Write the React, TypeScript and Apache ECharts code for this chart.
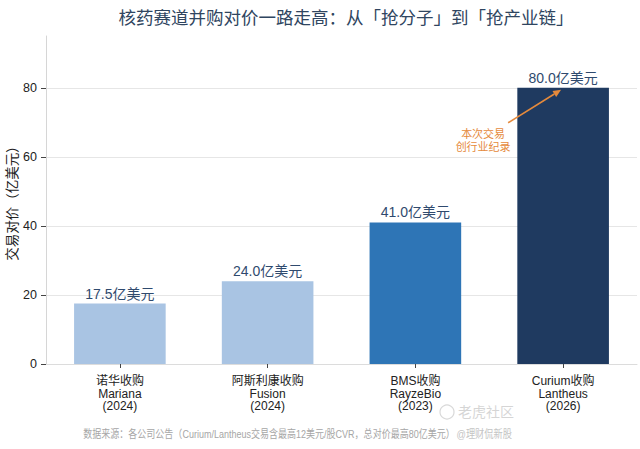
import React, { useEffect, useRef } from "react";
import * as echarts from "echarts";

const categories = [
  "诺华收购\nMariana\n(2024)",
  "阿斯利康收购\nFusion\n(2024)",
  "BMS收购\nRayzeBio\n(2023)",
  "Curium收购\nLantheus\n(2026)",
];
const values = [17.5, 24.0, 41.0, 80.0];
const barColors = ["#a9c4e3", "#a9c4e3", "#2e75b6", "#1f3a60"];
const yTicks = [0, 20, 40, 60, 80];
const titleText = "核药赛道并购对价一路走高：从「抢分子」到「抢产业链」";
const yName = "交易对价（亿美元）";
const noteText = "本次交易\n创行业纪录";
const sourceText = "数据来源：各公司公告（Curium/Lantheus交易含最高12美元/股CVR，总对价最高80亿美元）";

const FONT = "'Liberation Sans', 'Noto Sans CJK SC', sans-serif";

export default function App() {
  const ref = useRef<HTMLDivElement>(null);
  useEffect(() => {
    document.body.style.margin = "0";
    if (!ref.current) return;
    const chart = echarts.init(ref.current, undefined, { renderer: "svg" });
    chart.setOption({
      animation: false,
      textStyle: { fontFamily: FONT },
      title: {
        text: titleText,
        left: 341,
        top: 4,
        textAlign: "center",
        textStyle: { fontSize: 17.5, fontWeight: "normal", color: "#2f4560", fontFamily: FONT },
      },
      grid: { left: 46, right: 3, top: 36, bottom: 85, containLabel: false, outerBoundsMode: "none" },
      xAxis: {
        type: "category",
        data: categories,
        boundaryGap: true,
        axisLine: { show: true, lineStyle: { color: "#dcdcdc", width: 1 } },
        axisTick: { show: true, alignWithLabel: true, length: 4, lineStyle: { color: "#444" } },
        axisLabel: { color: "#222", fontSize: 12, lineHeight: 12.5, margin: 11, interval: 0, fontFamily: FONT },
      },
      yAxis: {
        type: "value",
        min: 0,
        max: 95,
        interval: 20,
        name: yName,
        nameLocation: "middle",
        nameGap: 27,
        nameRotate: 90,
        nameMoveOverlap: false,
        nameTextStyle: { fontSize: 13.5, color: "#222", fontFamily: FONT },
        axisLine: { show: true, lineStyle: { color: "#d6d6d6", width: 1 } },
        axisTick: { show: true, length: 5, lineStyle: { color: "#444" }, customValues: yTicks },
        axisLabel: { color: "#222", fontSize: 12.5, margin: 9, customValues: yTicks, fontFamily: FONT },
        splitLine: { show: true, lineStyle: { color: "#e6e6e6", width: 1 } },
      },
      series: [
        {
          type: "bar",
          barWidth: "62%",
          data: values.map((v, i) => ({ value: v, itemStyle: { color: barColors[i] } })),
          label: {
            show: true,
            position: "top",
            distance: 3,
            formatter: (p: any) => `${Number(p.value).toFixed(1)}亿美元`,
            fontSize: 14,
            color: "#2f4a6e",
            fontFamily: FONT,
          },
        },
      ],
    });

    const [cx, cy] = chart.convertToPixel({ gridIndex: 0 }, [3, values[3]]) as number[];
    const sx = cx - 55;
    const sy = cy + 35;
    const ex = cx - 2;
    const ey = cy + 2;
    const ang = Math.atan2(ey - sy, ex - sx);
    const hl = 8;
    const hw = 3.5;
    const bx = ex - hl * Math.cos(ang);
    const by = ey - hl * Math.sin(ang);
    const px = -Math.sin(ang);
    const py = Math.cos(ang);
    const orange = "#e58a3c";
    chart.setOption({
      graphic: [
        {
          type: "line",
          shape: { x1: sx, y1: sy, x2: bx, y2: by },
          style: { stroke: orange, lineWidth: 1.6 },
          z: 100,
        },
        {
          type: "polygon",
          shape: {
            points: [
              [ex, ey],
              [bx + px * hw, by + py * hw],
              [bx - px * hw, by - py * hw],
            ],
          },
          style: { fill: orange },
          z: 100,
        },
        {
          type: "text",
          x: cx - 80,
          y: cy + 40,
          style: {
            text: noteText,
            fill: orange,
            fontSize: 11,
            lineHeight: 13,
            align: "center",
            verticalAlign: "top",
            fontFamily: FONT,
          },
          z: 100,
        },
        {
          type: "text",
          x: 269,
          y: 434,
          scaleX: 0.82,
          style: {
            text: sourceText,
            fill: "#a6a6a6",
            fontSize: 11,
            align: "center",
            verticalAlign: "middle",
            fontFamily: FONT,
          },
        },
        {
          type: "text",
          x: 512,
          y: 434,
          scaleX: 0.84,
          style: {
            text: "@理财侃新股",
            fill: "#c4c4c4",
            fontSize: 11,
            align: "right",
            verticalAlign: "middle",
            fontFamily: FONT,
          },
        },
        {
          type: "circle",
          shape: { cx: 447, cy: 412, r: 7 },
          style: { fill: "none", stroke: "rgba(200,200,200,0.7)", lineWidth: 1.2 },
        },
        {
          type: "text",
          x: 514,
          y: 412,
          style: {
            text: "老虎社区",
            fill: "rgba(200,200,200,0.75)",
            fontSize: 14,
            align: "right",
            verticalAlign: "middle",
            fontFamily: FONT,
          },
        },
      ],
    });

    return () => chart.dispose();
  }, []);
  return <div ref={ref} style={{ width: 640, height: 449 }} />;
}
